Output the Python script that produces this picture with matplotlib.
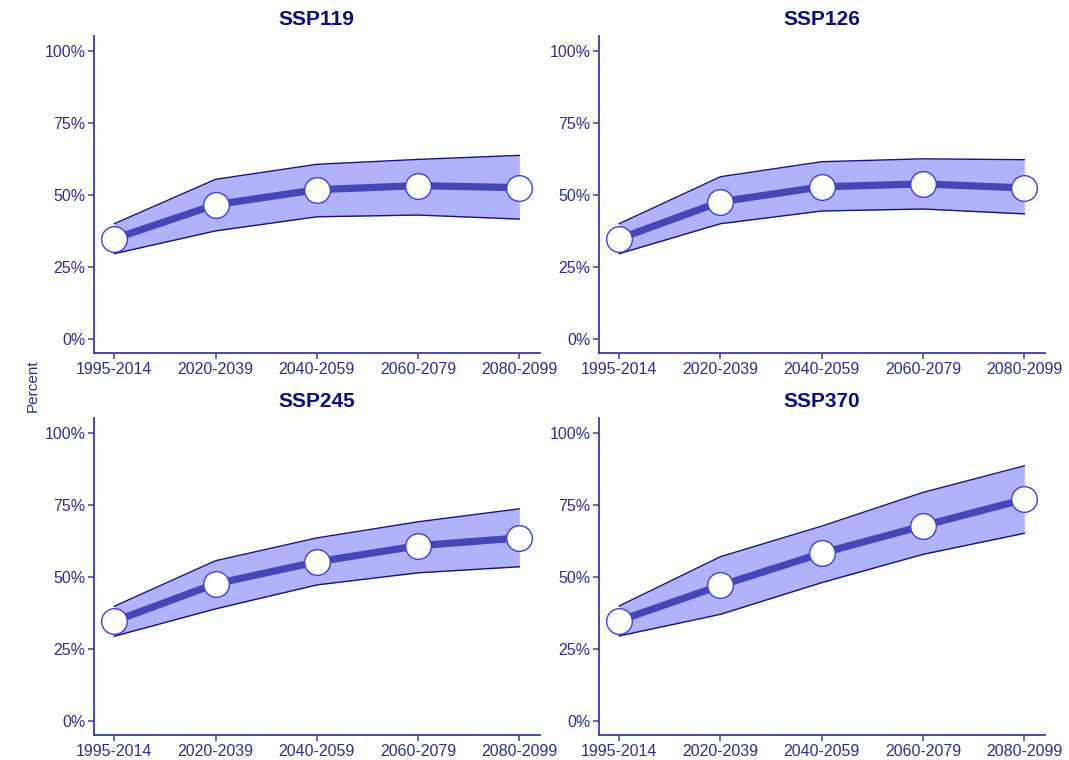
import matplotlib.pyplot as plt
import numpy as np

plt.rcParams['font.family'] = ['Liberation Sans', 'DejaVu Sans']

periods = ['1995-2014', '2020-2039', '2040-2059', '2060-2079', '2080-2099']
scenarios = ['SSP119', 'SSP126', 'SSP245', 'SSP370']

# median and range (percent)
ssp119_mid = [34.8, 46.6, 51.8, 53.2, 52.5]
ssp119_low = [29.6, 37.5, 42.4, 43.0, 41.6]
ssp119_high = [40.0, 55.4, 60.6, 62.3, 63.7]

ssp126_mid = [34.8, 47.6, 52.8, 53.8, 52.4]
ssp126_low = [29.6, 40.0, 44.4, 45.1, 43.4]
ssp126_high = [40.0, 56.3, 61.5, 62.5, 62.2]

ssp245_mid = [34.6, 47.6, 55.2, 60.8, 63.5]
ssp245_low = [29.4, 38.9, 47.2, 51.4, 53.5]
ssp245_high = [39.8, 55.6, 63.5, 69.1, 73.6]

ssp370_mid = [34.8, 47.0, 58.2, 67.7, 76.9]
ssp370_low = [29.5, 37.0, 48.0, 57.8, 65.1]
ssp370_high = [39.9, 57.0, 67.6, 79.3, 88.5]

mids = [ssp119_mid, ssp126_mid, ssp245_mid, ssp370_mid]
lows = [ssp119_low, ssp126_low, ssp245_low, ssp370_low]
highs = [ssp119_high, ssp126_high, ssp245_high, ssp370_high]

axis_col = '#3a3aa8'
text_col = '#2e2e9a'
title_col = '#0c0c82'

fig = plt.figure(figsize=(10.69, 7.6), dpi=100)
positions = [
    [0.088, 0.535, 0.4168, 0.4172],
    [0.5603, 0.535, 0.4168, 0.4172],
    [0.088, 0.0324, 0.4168, 0.4172],
    [0.5603, 0.0324, 0.4168, 0.4172],
]

x = np.arange(len(periods))
for i, name in enumerate(scenarios):
    ax = fig.add_axes(positions[i])
    mid = np.array(mids[i]) / 100
    lo = np.array(lows[i]) / 100
    hi = np.array(highs[i]) / 100

    ax.fill_between(x, lo, hi, color='#b2b2fa', linewidth=0, zorder=1)
    ax.plot(x, lo, color='#14147e', lw=1.0, zorder=2)
    ax.plot(x, hi, color='#14147e', lw=1.0, zorder=2)
    ax.plot(x, mid, color='#4646b8', lw=5.2, zorder=3, solid_capstyle='butt')
    ax.plot(x, mid, 'o', ms=18.5, mfc='white', mec='#3c3cf0', mew=1.0, zorder=4,
            clip_on=False)

    ax.set_xlim(-0.2, 4.2)
    ax.set_ylim(-0.05, 1.05)
    ax.set_xticks(x)
    ax.set_xticklabels(periods)
    ax.set_yticks([0, 0.25, 0.5, 0.75, 1.0])
    ax.set_yticklabels(['0%', '25%', '50%', '75%', '100%'])

    for side in ['top', 'right']:
        ax.spines[side].set_visible(False)
    for side in ['left', 'bottom']:
        ax.spines[side].set_color(axis_col)
        ax.spines[side].set_linewidth(1.3)
    ax.tick_params(colors=axis_col, labelcolor=text_col, labelsize=11.5,
                   length=4, width=1.1, pad=2)
    ax.set_title(name, fontsize=15, fontweight='bold', color=title_col, pad=8)

fig.text(0.031, 0.493, 'Percent', rotation=90, ha='center', va='center',
         fontsize=11, color=text_col)

fig.savefig('out.png', dpi=100)
